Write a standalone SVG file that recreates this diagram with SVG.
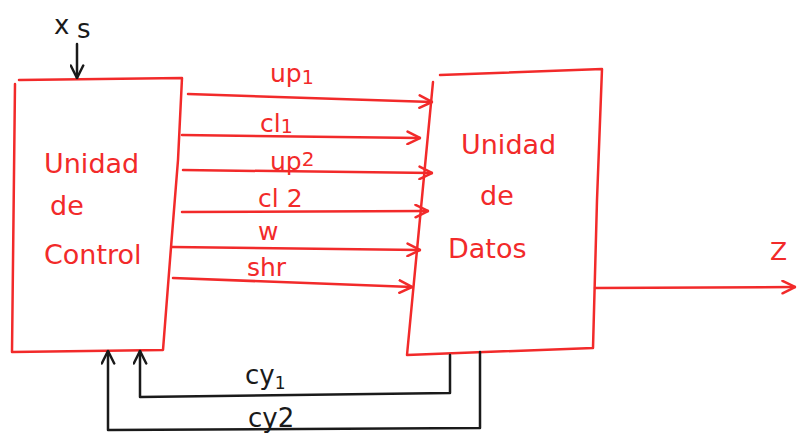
<svg xmlns="http://www.w3.org/2000/svg" width="798" height="438" viewBox="0 0 798 438">
<defs>
<style>
.red{stroke:#f22a2a;stroke-width:2.5;fill:none;stroke-linejoin:round;stroke-linecap:round}
.blk{stroke:#1a1a1a;stroke-width:2.5;fill:none;stroke-linejoin:round;stroke-linecap:round}
.rt{fill:#f22a2a;font-family:"DejaVu Sans",sans-serif;font-size:27px}
.lt{fill:#f22a2a;font-family:"DejaVu Sans",sans-serif;font-size:25px}
.bt{fill:#1a1a1a;font-family:"DejaVu Sans",sans-serif;font-size:26px}
</style>
<marker id="ar" viewBox="0 0 12 12" refX="11" refY="6" markerWidth="15" markerHeight="15" markerUnits="userSpaceOnUse" orient="auto">
<path d="M1,1 L11,6 L1,11" fill="none" stroke="#f22a2a" stroke-width="2" stroke-linecap="round"/>
</marker>
<marker id="ab" viewBox="0 0 12 12" refX="11" refY="6" markerWidth="15" markerHeight="15" markerUnits="userSpaceOnUse" orient="auto">
<path d="M1,1 L11,6 L1,11" fill="none" stroke="#1a1a1a" stroke-width="2" stroke-linecap="round"/>
</marker>
</defs>
<rect width="798" height="438" fill="#ffffff"/>
<g id="control">
<polyline class="red" points="19,80 182,78 178,160 170,260 163,350 12,352 15,84"/>
<text class="rt" x="44" y="173">Unidad</text>
<text class="rt" x="50" y="215">de</text>
<text class="rt" x="44" y="264">Control</text>
</g>
<g id="datos">
<polyline class="red" points="440,75 602,69 597,200 593,348 407,355 433,82"/>
<text class="rt" x="461" y="154">Unidad</text>
<text class="rt" x="480" y="205">de</text>
<text class="rt" x="448" y="258">Datos</text>
</g>
<g id="xs">
<text class="bt" x="54" y="34">x</text>
<text class="bt" x="77" y="38">s</text>
</g>
<g id="connectors">
<line class="blk" x1="77" y1="44" x2="77" y2="78" marker-end="url(#ab)"/>
<line class="red" x1="188" y1="94" x2="432" y2="102" marker-end="url(#ar)"/>
<line class="red" x1="182" y1="135" x2="420" y2="138" marker-end="url(#ar)"/>
<line class="red" x1="183" y1="170" x2="432" y2="173" marker-end="url(#ar)"/>
<line class="red" x1="182" y1="212" x2="428" y2="211" marker-end="url(#ar)"/>
<line class="red" x1="172" y1="247" x2="420" y2="250" marker-end="url(#ar)"/>
<line class="red" x1="173" y1="278" x2="412" y2="287" marker-end="url(#ar)"/>
<line class="red" x1="595" y1="288" x2="795" y2="287" marker-end="url(#ar)"/>
<polyline class="blk" points="450,355 450,393 140,397 140,351" marker-end="url(#ab)"/>
<polyline class="blk" points="480,352 480,428 108,430 108,351" marker-end="url(#ab)"/>
</g>
<g id="labels">
<text class="lt" x="270" y="82">up<tspan font-size="19" dy="2">1</tspan></text>
<text class="lt" x="260" y="132">cl<tspan font-size="19" dy="1">1</tspan></text>
<text class="lt" x="270" y="170">up<tspan font-size="20" dy="-4">2</tspan></text>
<text class="lt" x="258" y="207">cl 2</text>
<text class="lt" x="258" y="240">w</text>
<text class="lt" x="247" y="276">shr</text>
<text class="lt" x="770" y="260">Z</text>
<text class="bt" x="245" y="384">cy<tspan font-size="17" dy="5">1</tspan></text>
<text class="bt" x="248" y="427">cy2</text>
</g>
</svg>
